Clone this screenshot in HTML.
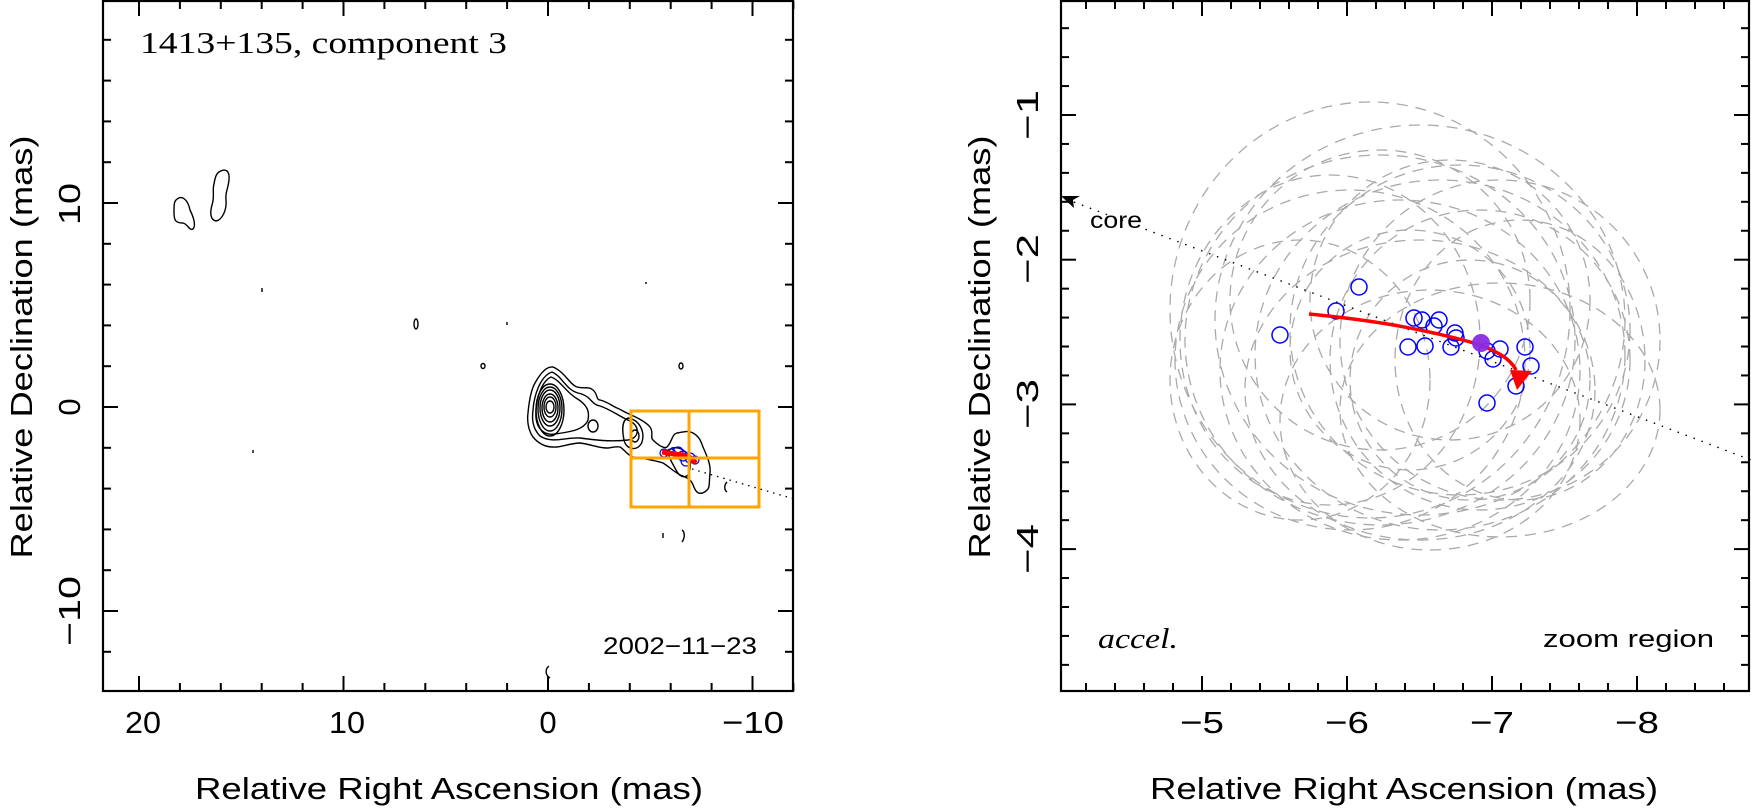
<!DOCTYPE html>
<html><head><meta charset="utf-8"><style>
html,body{margin:0;padding:0;background:#fff;}
svg{display:block;}
</style></head><body>
<svg id="s" width="1751" height="809" viewBox="0 0 1751 809" xmlns="http://www.w3.org/2000/svg">
<rect width="1751" height="809" fill="#fff"/>
<g id="ticks" stroke="#000" stroke-width="2"></g>
<g id="ell" fill="none" stroke="#aaa" stroke-width="1.3" stroke-dasharray="11 8"></g>

<!-- LEFT PANEL contours -->
<g fill="none" stroke="#000" stroke-width="1.4">
<path d="M553,367 C565,372 570,385 577,387 C584,389 588,386 593,390 C598,394 596,400 600,400 C608,402 612,406 617,408 C622,410 624,412 627,413 C638,418 646,422 650,427 C654,432 650,438 653,440 C658,445 664,449 667,447 C672,442 672,434 677,433 C684,432 688,430 693,433 C700,437 701,442 703,447 C707,456 711,465 710,473 C709,482 710,488 707,490 C703,494 699,494 697,492 C693,488 694,484 690,480 C685,476 681,476 677,473 C672,470 668,466 663,463 C654,460 640,458 633,457 C627,455 624,449 620,447 C615,446 611,448 607,448 C598,448 590,444 580,443 C570,443 560,448 553,447 C545,447 538,443 533,437 C528,430 527,420 528,413 C529,402 531,390 535,383 C540,374 546,366 553,367 Z"/>
<path d="M552,372 C562,376 566,390 578,393 C592,396 590,404 600,406 C612,410 618,416 630,421 C640,426 640,438 628,440 C610,442 595,440 580,438 C566,437 552,444 540,436 C532,428 532,418 533,410 C534,396 540,376 552,372 Z"/>
<path d="M551,377 C560,380 566,392 576,398 C586,404 590,410 588,420 C584,430 570,432 555,434 C544,436 537,428 536,418 C535,404 540,382 551,377 Z"/>
<ellipse cx="550" cy="410" rx="14" ry="26"/>
<ellipse cx="550" cy="409" rx="12" ry="22"/>
<ellipse cx="550" cy="408" rx="10" ry="18"/>
<ellipse cx="550" cy="408" rx="8" ry="14"/>
<ellipse cx="550" cy="407" rx="6" ry="10"/>
<ellipse cx="550" cy="407" rx="4" ry="6"/>
<ellipse cx="593" cy="426" rx="5" ry="6"/>
<path d="M628,418 C640,420 645,432 642,442 C638,452 626,450 624,440 C622,430 622,420 628,418 Z"/>
<ellipse cx="635" cy="436" rx="4" ry="6"/>
<path d="M672,448 C684,446 692,456 690,470 C688,480 680,478 676,470 C672,462 664,452 672,448 Z"/>
<path d="M176,200 C182,194 188,200 190,210 C194,218 196,226 193,229 C189,231 188,224 183,223 C175,223 174,220 174,212 C174,206 174,202 176,200 Z"/>
<path d="M219,172 C225,168 230,170 229,180 C228,190 225,192 226,200 C227,210 222,220 216,221 C210,220 210,212 212,205 C215,196 212,190 214,184 C215,178 216,174 219,172 Z"/>
<ellipse cx="416" cy="324" rx="2" ry="5"/>
<ellipse cx="483" cy="366" rx="2" ry="2.5"/>
<ellipse cx="681" cy="366" rx="2" ry="3"/>
<path d="M262,288 l0,4"/><path d="M253,450 l0,3"/><path d="M646,282 l0,2"/><path d="M507,322 l0,3"/>
<path d="M663,533 l0,5"/><path d="M682,530 c3,2 3,8 0,12"/>
<path d="M549,666 c-4,3 -4,9 1,12"/>
<path d="M727,482 c-3,3 -3,8 0,10"/>
</g>
<line x1="692" y1="469" x2="794" y2="499" stroke="#000" stroke-width="1.3" stroke-dasharray="1.5 5"/>
<g fill="none" stroke="#0000ee" stroke-width="1.2">
<circle cx="671" cy="454" r="5"/><circle cx="678" cy="452" r="5"/><circle cx="683" cy="456" r="5"/><circle cx="690" cy="458" r="5"/><circle cx="695" cy="460" r="4"/><circle cx="686" cy="461" r="5"/><circle cx="664" cy="453" r="4"/>
</g>
<path d="M662,452 L688,456 L696,463" fill="none" stroke="#f00" stroke-width="5"/>
<g stroke="#ffa500" stroke-width="3" fill="none">
<rect x="631" y="411" width="128" height="96"/>
<line x1="689" y1="411" x2="689" y2="507"/>
<line x1="631" y1="458" x2="759" y2="458"/>
</g>
<text x="140" y="53" font-family="Liberation Serif, serif" font-size="31" textLength="367" lengthAdjust="spacingAndGlyphs">1413+135, component 3</text>
<text x="603" y="654" font-family="Liberation Sans, sans-serif" font-size="24" textLength="154" lengthAdjust="spacingAndGlyphs">2002−11−23</text>

<!-- RIGHT PANEL -->
<line x1="1066" y1="199" x2="1751" y2="460" stroke="#000" stroke-width="1.4" stroke-dasharray="1.5 7"/>
<path d="M1061,196 L1080,196 L1073,200 L1074,208 Z" fill="#000"/>
<text x="1090" y="228" font-family="Liberation Sans, sans-serif" font-size="23" textLength="52" lengthAdjust="spacingAndGlyphs">core</text>
<g fill="none" stroke="#0000ff" stroke-width="1.5">
<circle cx="1280" cy="335" r="8"/><circle cx="1359" cy="287" r="8"/><circle cx="1336" cy="311" r="8"/>
<circle cx="1414" cy="318" r="8"/><circle cx="1422" cy="320" r="8"/><circle cx="1439" cy="320" r="8"/>
<circle cx="1434" cy="326" r="8"/><circle cx="1455" cy="333" r="8"/><circle cx="1456" cy="338" r="8"/>
<circle cx="1408" cy="347" r="8"/><circle cx="1425" cy="346" r="8"/><circle cx="1451" cy="347" r="8"/>
<circle cx="1487" cy="351" r="8"/><circle cx="1500" cy="349" r="8"/><circle cx="1493" cy="359" r="8"/>
<circle cx="1525" cy="347" r="8"/><circle cx="1531" cy="366" r="8"/><circle cx="1516" cy="386" r="8"/>
<circle cx="1487" cy="403" r="8"/>
</g>
<path d="M1309,314 C1370,320 1420,328 1474,343 C1495,350 1510,358 1516,370" fill="none" stroke="#f00" stroke-width="3.5"/>
<path d="M1510,370 L1532,371 L1517,390 Z" fill="#f00"/>
<circle cx="1481" cy="343" r="9" fill="#8a2be2" opacity="0.95"/>
<text x="1098" y="648" font-family="Liberation Serif, serif" font-style="italic" font-size="28" textLength="80" lengthAdjust="spacingAndGlyphs">accel.</text>
<text x="1543" y="647" font-family="Liberation Sans, sans-serif" font-size="24" textLength="171" lengthAdjust="spacingAndGlyphs">zoom region</text>

<!-- frames -->
<rect x="103" y="1" width="690" height="690" fill="none" stroke="#000" stroke-width="2.2"/>
<rect x="1061" y="1" width="688" height="690" fill="none" stroke="#000" stroke-width="2.2"/>

<g font-family="Liberation Sans, sans-serif" font-size="31" text-anchor="middle">
<text x="143" y="733" textLength="36" lengthAdjust="spacingAndGlyphs">20</text>
<text x="347" y="733" textLength="36" lengthAdjust="spacingAndGlyphs">10</text>
<text x="548" y="733">0</text>
<text x="753" y="733" textLength="62" lengthAdjust="spacingAndGlyphs">−10</text>
<text x="1202" y="733" textLength="44" lengthAdjust="spacingAndGlyphs">−5</text>
<text x="1347" y="733" textLength="44" lengthAdjust="spacingAndGlyphs">−6</text>
<text x="1492" y="733" textLength="44" lengthAdjust="spacingAndGlyphs">−7</text>
<text x="1637" y="733" textLength="44" lengthAdjust="spacingAndGlyphs">−8</text>
<text transform="translate(80,204) rotate(-90)" textLength="42" lengthAdjust="spacingAndGlyphs">10</text>
<text transform="translate(80,407) rotate(-90)">0</text>
<text transform="translate(80,611) rotate(-90)" textLength="70" lengthAdjust="spacingAndGlyphs">−10</text>
<text transform="translate(1038,115) rotate(-90)" textLength="50" lengthAdjust="spacingAndGlyphs">−1</text>
<text transform="translate(1038,259) rotate(-90)" textLength="50" lengthAdjust="spacingAndGlyphs">−2</text>
<text transform="translate(1038,404) rotate(-90)" textLength="50" lengthAdjust="spacingAndGlyphs">−3</text>
<text transform="translate(1038,549) rotate(-90)" textLength="50" lengthAdjust="spacingAndGlyphs">−4</text>
<text x="449" y="799" textLength="508" lengthAdjust="spacingAndGlyphs">Relative Right Ascension (mas)</text>
<text x="1404" y="799" textLength="508" lengthAdjust="spacingAndGlyphs">Relative Right Ascension (mas)</text>
<text transform="translate(32,347) rotate(-90)" textLength="423" lengthAdjust="spacingAndGlyphs">Relative Declination (mas)</text>
<text transform="translate(990,347) rotate(-90)" textLength="423" lengthAdjust="spacingAndGlyphs">Relative Declination (mas)</text>
</g>
</svg>
<script>
(function(){
var NS="http://www.w3.org/2000/svg";
var t=document.getElementById("ticks");
function L(x1,y1,x2,y2){var l=document.createElementNS(NS,"line");l.setAttribute("x1",x1);l.setAttribute("y1",y1);l.setAttribute("x2",x2);l.setAttribute("y2",y2);t.appendChild(l);}
// left panel
for(var ra=20;ra>=-12;ra-=2){var x=548-20.45*ra;var m=(ra%10===0)?15:8;L(x,691,x,691-m);L(x,1,x,1+m);}
for(var d=-12;d<=18;d+=2){var y=407-20.4*d;var m=(d%10===0)?15:8;L(103,y,103+m,y);L(793,y,793-m,y);}
// right panel
for(var i=-42;i>=-86;i-=2){var ra=i/10;var x=1202+145*(-ra-5);var m=(i%10===0)?15:8;L(x,691,x,691-m);L(x,1,x,1+m);}
for(var i=-4;i>=-48;i-=2){var d=i/10;var y=115-144.7*(d+1);var m=(i%10===0)?15:8;L(1061,y,1061+m,y);L(1749,y,1749-m,y);}
var e=document.getElementById("ell");
var E=[[1370,310,200,208],[1420,320,205,195],[1500,410,160,127],[1380,340,195,185],[1440,355,185,175],
[1400,370,180,170],[1460,330,170,165],[1350,360,175,170],[1480,360,150,150],[1420,390,175,150],
[1300,380,130,140],[1450,300,140,140],[1500,340,160,160],[1380,300,150,150],[1430,420,150,130],
[1330,340,150,165],[1470,380,120,120],[1410,350,120,120],[1520,360,125,140]];
E.forEach(function(a){var c=document.createElementNS(NS,"ellipse");c.setAttribute("cx",a[0]);c.setAttribute("cy",a[1]);c.setAttribute("rx",a[2]);c.setAttribute("ry",a[3]);e.appendChild(c);});
})();
</script>
</body></html>
